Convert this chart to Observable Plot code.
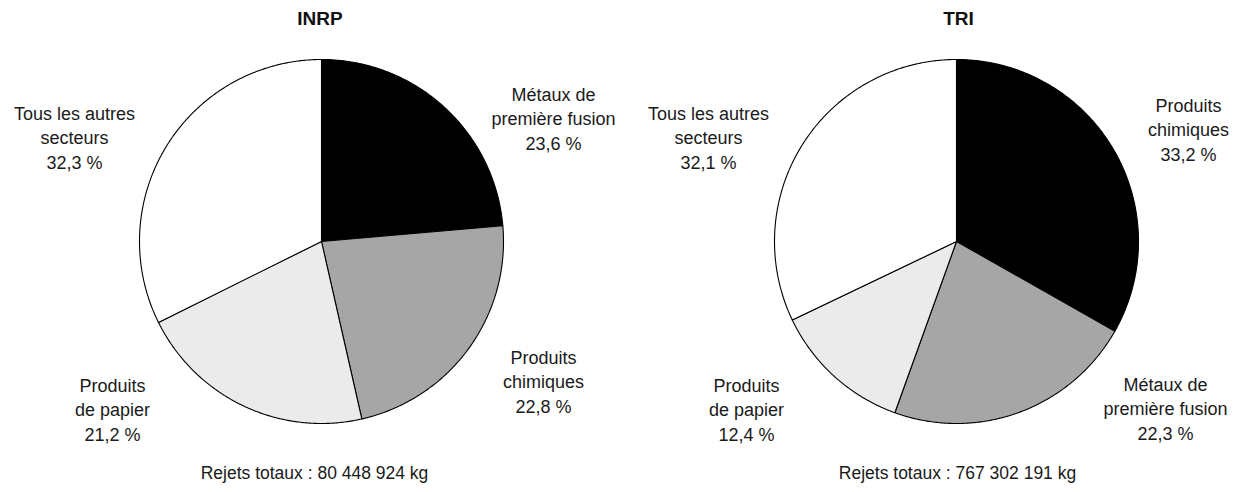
<!DOCTYPE html>
<html>
<head>
<meta charset="utf-8">
<script src="https://cdn.jsdelivr.net/npm/d3@7"></script>
<script src="https://cdn.jsdelivr.net/npm/@observablehq/plot@0.6"></script>
<style>
  html, body { margin: 0; padding: 0; background: #fff; }
  #wrap { display: flex; width: 1237px; height: 492px; }
  svg { font-family: "Liberation Sans", Arial, sans-serif; }
</style>
</head>
<body>
<div id="wrap"></div>
<script>
// ---- Data ----
const titles = ["INRP", "TRI"];
const totals = ["Rejets totaux : 80 448 924 kg", "Rejets totaux : 767 302 191 kg"];
// clockwise order from 12 o'clock
const inrpSectors = ["Métaux de\npremière fusion", "Produits\nchimiques", "Produits\nde papier", "Tous les autres\nsecteurs"];
const inrpShares = [23.6, 22.8, 21.2, 32.3];
const triSectors = ["Produits\nchimiques", "Métaux de\npremière fusion", "Produits\nde papier", "Tous les autres\nsecteurs"];
const triShares = [33.2, 22.3, 12.4, 32.1];
const shadeOrder = ["#000000", "#a6a6a6", "#ebebeb", "#ffffff"];

// ---- Layout (pixels) ----
const R = 182;           // pie radius in px
const H = 492;
const CY = 241;          // pie center y
const panels = [
  { width: 618, cx: 321, sectors: inrpSectors, shares: inrpShares,
    labelOffsets: [[232, -124], [222, 139], [-209, 167], [-247, -105]], titleDx: -1.5, totalDx: -7 },
  { width: 619, cx: 338, sectors: triSectors, shares: triShares,
    labelOffsets: [[232, -113], [209, 166], [-210, 167], [-248, -105]], titleDx: 2, totalDx: 1 }
];
const fmt = v => v.toFixed(1).replace(".", ",") + " %";

panels.forEach((p, i) => {
  const arcs = d3.pie().sort(null).value(d => d)(p.shares);
  const pts = [];
  arcs.forEach((a, k) => {
    const id = "s" + k;
    pts.push({ id, x: 0, y: 0, c: shadeOrder[k] });
    const n = Math.max(2, Math.ceil((a.endAngle - a.startAngle) / (Math.PI / 360)));
    for (let j = 0; j <= n; j++) {
      const t = a.startAngle + (a.endAngle - a.startAngle) * j / n;
      pts.push({ id, x: Math.sin(t), y: Math.cos(t), c: shadeOrder[k] });
    }
    pts.push({ id, x: 0, y: 0, c: shadeOrder[k] });
  });
  const labels = p.sectors.map((s, k) => ({
    text: s + "\n" + fmt(p.shares[k]),
    x: p.labelOffsets[k][0] / R,
    y: -p.labelOffsets[k][1] / R
  }));
  const chart = Plot.plot({
    width: p.width,
    height: H,
    margin: 0,
    x: { domain: [-p.cx / R, (p.width - p.cx) / R], axis: null },
    y: { domain: [-(H - CY) / R, CY / R], axis: null },
    color: { type: "identity" },
    style: { fontFamily: '"Liberation Sans", Arial, sans-serif', background: "#fff" },
    marks: [
      Plot.line(pts, { x: "x", y: "y", z: "id", fill: "c", stroke: "#000", strokeWidth: 1.1, curve: "linear" }),
      Plot.text(labels, { x: "x", y: "y", text: "text", fontSize: 18, lineHeight: 1.36, fill: "#1a1a1a", textAnchor: "middle" }),
      Plot.text([titles[i]], { x: p.titleDx / R, y: (CY - 18) / R, text: d => d, fontSize: 19, fontWeight: "bold", fill: "#111" }),
      Plot.text([totals[i]], { x: p.totalDx / R, y: -(473 - CY) / R, text: d => d, fontSize: 17.5, fill: "#1a1a1a" })
    ]
  });
  document.getElementById("wrap").appendChild(chart);
});
</script>
</body>
</html>
